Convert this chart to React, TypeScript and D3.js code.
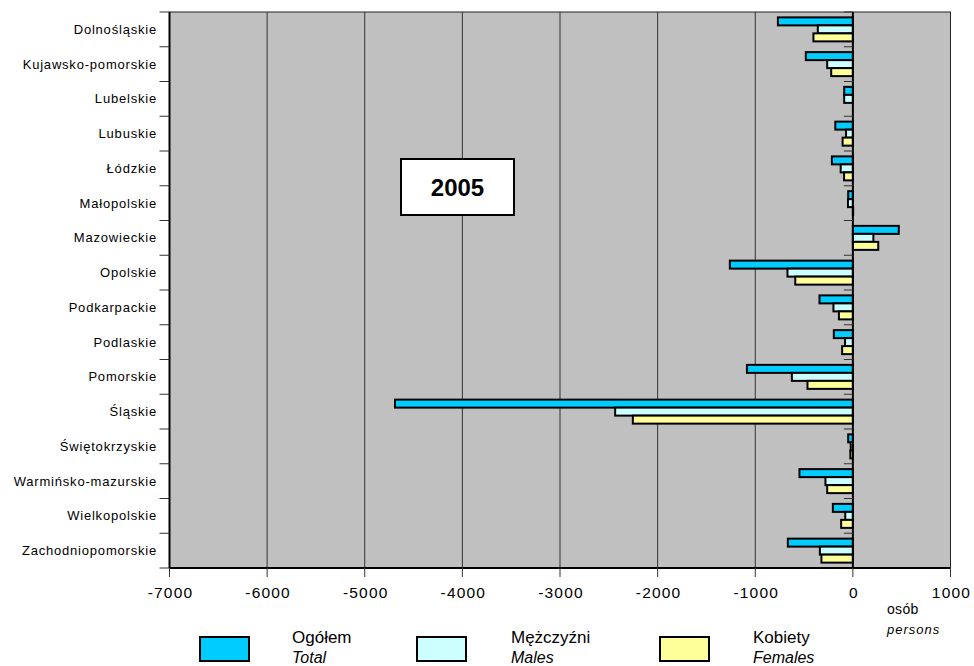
import React from "react";
import * as d3 from "d3";

const categories = [
  "Dolnośląskie",
  "Kujawsko-pomorskie",
  "Lubelskie",
  "Lubuskie",
  "Łódzkie",
  "Małopolskie",
  "Mazowieckie",
  "Opolskie",
  "Podkarpackie",
  "Podlaskie",
  "Pomorskie",
  "Śląskie",
  "Świętokrzyskie",
  "Warmińsko-mazurskie",
  "Wielkopolskie",
  "Zachodniopomorskie",
];

const totalValues = [-768, -482, -89, -180, -215, -48, 470, -1260, -342, -195, -1085, -4690, -48, -547, -205, -666];
const malesValues = [-359, -263, -89, -70, -125, -50, 210, -670, -199, -80, -625, -2435, -22, -281, -78, -338];
const femalesValues = [-404, -222, 0, -105, -90, 3, 260, -590, -143, -110, -465, -2254, -26, -263, -120, -322];

const xTicks = [-7000, -6000, -5000, -4000, -3000, -2000, -1000, 0, 1000];

const seriesKeys = ["total", "males", "females"];
const seriesColors: Record<string, string> = {
  total: "#00CCFF",
  males: "#CCFFFF",
  females: "#FFFF99",
};
const legendItems = [
  { key: "total", pl: "Ogółem", en: "Total" },
  { key: "males", pl: "Mężczyźni", en: "Males" },
  { key: "females", pl: "Kobiety", en: "Females" },
];

export default function App() {
  const W = 974;
  const H = 666;
  const left = 169.5;
  const right = 950.5;
  const top = 12;
  const bottom = 568;

  const x = d3.scaleLinear().domain([-7000, 1000]).range([left, right]);
  const y = d3.scaleBand<string>().domain(categories).range([top, bottom]).padding(0);
  const groupH = 24;
  const sub = d3.scaleBand<string>().domain(seriesKeys).range([0, groupH]).padding(0);
  const offset = (y.bandwidth() - groupH) / 2;

  const data = categories.map((c, i) => ({
    cat: c,
    total: totalValues[i],
    males: malesValues[i],
    females: femalesValues[i],
  }));

  const x0 = x(0);
  const boundaries = d3.range(categories.length + 1).map((i) => top + i * y.step());
  const font = "Arial, 'Liberation Sans', sans-serif";

  const legendSwatchX = [200, 417, 660];
  const legendTextX = [292, 511, 753];

  return (
    <div style={{ position: "fixed", left: 0, top: 0, width: W, height: H, background: "#fff" }}>
      <svg width={W} height={H} style={{ display: "block" }} fontFamily={font}>
        <rect x={0} y={0} width={W} height={H} fill="#fff" />
        {/* plot area */}
        <rect x={left} y={top} width={right - left} height={bottom - top} fill="#C0C0C0" stroke="#222" strokeWidth={1} />
        {/* gridlines */}
        {xTicks.filter((t) => t !== 0 && t !== -7000 && t !== 1000).map((t) => (
          <line key={"g" + t} x1={x(t)} x2={x(t)} y1={top} y2={bottom} stroke="#333" strokeWidth={1} />
        ))}
        {/* bars */}
        {data.map((d) => (
          <g key={d.cat} transform={`translate(0,${(y(d.cat) as number) + offset})`}>
            {seriesKeys.map((k) => {
              const v = (d as any)[k] as number;
              const xv = x(v);
              const bx = Math.min(xv, x0);
              const bw = Math.abs(xv - x0);
              return (
                <rect
                  key={k}
                  x={bx}
                  y={sub(k) as number}
                  width={bw}
                  height={sub.bandwidth()}
                  fill={seriesColors[k]}
                  stroke="#000"
                  strokeWidth={2}
                />
              );
            })}
          </g>
        ))}
        {/* zero axis line */}
        <line x1={x0} x2={x0} y1={top} y2={bottom} stroke="#000" strokeWidth={2} />
        {/* ticks at zero axis */}
        {boundaries.map((b, i) => (
          <line key={"zt" + i} x1={x0 - 9} x2={x0} y1={b} y2={b} stroke="#333" strokeWidth={1} />
        ))}
        {/* left border & ticks */}
        <line x1={left} x2={left} y1={top} y2={bottom} stroke="#000" strokeWidth={2} />
        <line x1={left} x2={right} y1={bottom} y2={bottom} stroke="#000" strokeWidth={2} />
        {boundaries.map((b, i) => (
          <line key={"lt" + i} x1={left - 10} x2={left} y1={b} y2={b} stroke="#333" strokeWidth={1} />
        ))}
        {/* category labels */}
        {categories.map((c) => (
          <text
            key={"l" + c}
            x={157}
            y={(y(c) as number) + y.bandwidth() / 2}
            dy="0.35em"
            textAnchor="end"
            fontSize={13}
            letterSpacing={0.8}
            fill="#000"
          >
            {c}
          </text>
        ))}
        {/* x ticks */}
        {xTicks.map((t) => (
          <g key={"xt" + t}>
            <line x1={x(t)} x2={x(t)} y1={bottom} y2={bottom + 9} stroke="#333" strokeWidth={1} />
            <text x={x(t) + 1} y={598} textAnchor="middle" fontSize={15.5} letterSpacing={1.2} fill="#000">
              {t}
            </text>
          </g>
        ))}
        {/* units */}
        <text x={887} y={614} fontSize={14} letterSpacing={0.3} fill="#000">osób</text>
        <text x={887} y={634} fontSize={13} fontStyle="italic" letterSpacing={1} fill="#000">persons</text>
        {/* year box */}
        <rect x={401} y={159} width={113} height={56} fill="#fff" stroke="#000" strokeWidth={2} />
        <text x={457.5} y={196} textAnchor="middle" fontSize={24} fontWeight="bold" fill="#000">2005</text>
        {/* legend */}
        {legendItems.map((it, i) => (
          <g key={"lg" + it.key}>
            <rect x={legendSwatchX[i]} y={637} width={49} height={24} fill={seriesColors[it.key]} stroke="#000" strokeWidth={2} />
            <text x={legendTextX[i]} y={643} fontSize={17} fill="#000">{it.pl}</text>
            <text x={legendTextX[i]} y={663} fontSize={16} fontStyle="italic" fill="#000">{it.en}</text>
          </g>
        ))}
      </svg>
    </div>
  );
}
